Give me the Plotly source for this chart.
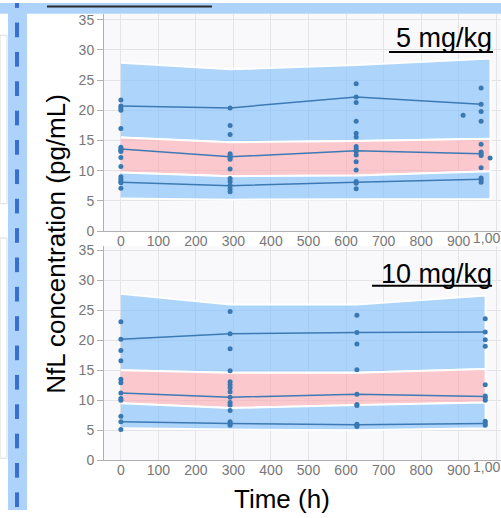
import plotly.graph_objects as go

W, H = 501, 518

# ---------------- data: 5 mg/kg ----------------
band_t_5 = [0, 291, 627, 985]
hi_top_5 = [27.9, 26.8, 27.5, 28.6]
hi_bot_5 = [15.5, 14.7, 14.9, 15.3]
lo_top_5 = [9.7, 9.1, 9.2, 9.9]
lo_bot_5 = [5.4, 5.2, 5.2, 5.3]

line_t_5 = [0, 291, 627, 960]
p95_5 = [20.7, 20.4, 22.2, 21.0]
p50_5 = [13.6, 12.3, 13.3, 12.8]
p05_5 = [8.1, 7.5, 8.1, 8.6]

obs_t_5 = ([0] * 16 + [291] * 13 + [627] * 15 + [960] * 12 + [912, 984])
obs_c_5 = ([21.7, 20.7, 20.4, 20.0, 17.0, 13.9, 13.6, 13.4, 13.2, 12.2, 10.7, 9.0, 8.6, 8.2, 8.0, 7.1]
           + [20.4, 17.5, 16.0, 12.8, 12.5, 12.2, 11.9, 10.3, 8.7, 8.2, 7.6, 7.0, 6.5]
           + [24.4, 22.2, 21.3, 18.2, 16.2, 15.6, 14.0, 13.6, 13.2, 12.6, 11.5, 10.1, 8.2, 7.9, 7.0]
           + [23.7, 21.0, 19.8, 18.2, 14.4, 13.1, 12.8, 12.5, 10.5, 8.8, 8.5, 8.1]
           + [19.2, 12.1])

# ---------------- data: 10 mg/kg ----------------
band_t_10 = [0, 291, 629, 972]
hi_top_10 = [27.8, 26.0, 26.0, 27.5]
hi_bot_10 = [15.0, 14.6, 14.6, 15.2]
lo_top_10 = [9.5, 8.7, 9.2, 9.6]
lo_bot_10 = [5.3, 5.1, 5.0, 5.3]

line_t_10 = [0, 291, 629, 971]
p95_10 = [20.2, 21.1, 21.3, 21.4]
p50_10 = [11.2, 10.5, 11.0, 10.6]
p05_10 = [6.4, 6.1, 5.9, 6.1]

obs_t_10 = ([0] * 12 + [291] * 15 + [629] * 10 + [971] * 11)
obs_c_10 = ([23.1, 20.2, 18.3, 16.6, 13.5, 12.9, 11.2, 10.3, 10.0, 7.3, 6.4, 5.1]
            + [24.8, 21.1, 18.6, 14.9, 13.1, 12.6, 12.1, 11.4, 10.5, 9.6, 9.2, 8.3, 6.4, 6.1, 5.8]
            + [24.2, 21.3, 19.4, 15.1, 11.0, 9.3, 9.1, 6.0, 5.8, 5.6]
            + [23.6, 21.4, 20.1, 19.0, 12.6, 10.7, 10.4, 10.0, 6.5, 6.2, 5.8])

x_ticks = [0, 100, 200, 300, 400, 500, 600, 700, 800, 900, 1000]
x_tick_text = ["0", "100", "200", "300", "400", "500", "600", "700", "800", "900", ""]
x_last_label = "1,00"   # the 1,000 label is cut at the right edge of the picture
y_ticks = [0, 5, 10, 15, 20, 25, 30, 35]
panel_labels = ["5 mg/kg", "10 mg/kg"]

BLUE_FILL = "rgba(122,188,252,0.6)"
PINK_FILL = "rgba(252,167,175,0.6)"
LINE_C = "#3d7ab5"
PT_C = "#3a78b2"

fig = go.Figure()


def add_panel(xa, ya, bt, ht, hb, lt, lb, lt_x, u, m, l, ot, oc):
    for top, bot, col in [(ht, hb, BLUE_FILL), (hb, lt, PINK_FILL), (lt, lb, BLUE_FILL)]:
        fig.add_trace(go.Scatter(x=bt + bt[::-1], y=top + bot[::-1], fill="toself",
                                 fillcolor=col, mode="lines",
                                 line=dict(color="white", width=2),
                                 xaxis=xa, yaxis=ya, showlegend=False, hoverinfo="skip"))
    for s in (u, m, l):
        fig.add_trace(go.Scatter(x=lt_x, y=s, mode="lines",
                                 line=dict(color=LINE_C, width=1.5),
                                 xaxis=xa, yaxis=ya, showlegend=False))
    fig.add_trace(go.Scatter(x=ot, y=oc, mode="markers",
                             marker=dict(color=PT_C, size=5),
                             xaxis=xa, yaxis=ya, showlegend=False))


add_panel("x", "y", band_t_5, hi_top_5, hi_bot_5, lo_top_5, lo_bot_5,
          line_t_5, p95_5, p50_5, p05_5, obs_t_5, obs_c_5)
add_panel("x2", "y2", band_t_10, hi_top_10, hi_bot_10, lo_top_10, lo_bot_10,
          line_t_10, p95_10, p50_10, p05_10, obs_t_10, obs_c_10)


def px_x(p):
    return p / W


def px_y(p):
    return (H - p) / H


tick_font = dict(family="Liberation Sans, Arial", size=14, color="#777777")
xcommon = dict(range=[-45, 1013], tickvals=x_ticks, ticktext=x_tick_text,
               showgrid=True, gridcolor="#e4e4e8", gridwidth=1,
               showline=True, linecolor="#b0b0b0", linewidth=1,
               ticks="", tickfont=tick_font, zeroline=False, ticklabelstandoff=-3,
               domain=[px_x(104), 1.0])
ycommon = dict(tickvals=y_ticks, showgrid=True, gridcolor="#e4e4e8", gridwidth=1,
               showline=True, linecolor="#b0b0b0", linewidth=1,
               ticks="outside", ticklen=6, tickcolor="#b0b0b0",
               tickfont=tick_font, zeroline=False)

fig.update_layout(
    width=W, height=H,
    margin=dict(l=0, r=0, t=0, b=0),
    paper_bgcolor="white", plot_bgcolor="#f9f9fb",
    font=dict(family="Liberation Sans, Arial", color="black"),
    xaxis=dict(anchor="y", **xcommon),
    yaxis=dict(anchor="x", range=[0, 36], domain=[px_y(233), px_y(11)], **ycommon),
    xaxis2=dict(anchor="y2", **xcommon),
    yaxis2=dict(anchor="x2", range=[0, 35.8], domain=[px_y(467), px_y(248)], **ycommon),
)

annotations = [
    dict(text=panel_labels[0], x=px_x(494), y=px_y(36), xref="paper", yref="paper",
         xanchor="right", yanchor="middle", showarrow=False,
         font=dict(size=27, color="black")),
    dict(text=panel_labels[1], x=px_x(494), y=px_y(277), xref="paper", yref="paper",
         xanchor="right", yanchor="middle", showarrow=False,
         font=dict(size=27, color="black")),
    dict(text="NfL concentration (pg/mL)", x=px_x(56), y=px_y(246), xref="paper", yref="paper",
         xanchor="center", yanchor="middle", textangle=-90, showarrow=False,
         font=dict(size=26, color="black")),
    dict(text="Time (h)", x=px_x(282), y=px_y(507), xref="paper", yref="paper",
         xanchor="center", yanchor="middle", showarrow=False,
         font=dict(size=26, color="black")),
    dict(text=x_last_label, x=1.0, y=px_y(240), xref="paper", yref="paper",
         xanchor="right", yanchor="middle", showarrow=False, borderpad=0,
         font=dict(family="Liberation Sans, Arial", size=14, color="#777777")),
    dict(text=x_last_label, x=1.0, y=px_y(474.5), xref="paper", yref="paper",
         xanchor="right", yanchor="middle", showarrow=False, borderpad=0,
         font=dict(family="Liberation Sans, Arial", size=14, color="#777777")),
]
fig.update_layout(annotations=annotations)

STRIP = "#aed3fa"
shapes = [
    dict(type="rect", xref="paper", yref="paper", x0=0, x1=1, y0=px_y(11), y1=1,
         fillcolor=STRIP, line=dict(width=0)),
    dict(type="rect", xref="paper", yref="paper", x0=0, x1=px_x(7), y0=px_y(205), y1=px_y(33),
         fillcolor="white", line=dict(color="#dedede", width=1)),
    dict(type="rect", xref="paper", yref="paper", x0=0, x1=px_x(7), y0=px_y(465), y1=px_y(240),
         fillcolor="white", line=dict(color="#dedede", width=1)),
    dict(type="rect", xref="paper", yref="paper", x0=px_x(8), x1=px_x(27), y0=0, y1=1,
         fillcolor=STRIP, line=dict(width=0)),
    dict(type="line", xref="paper", yref="paper", x0=px_x(47), x1=px_x(212), y0=px_y(3.5), y1=px_y(3.5),
         line=dict(color="#2b2b2b", width=2)),
    dict(type="line", xref="paper", yref="paper", x0=px_x(389), x1=px_x(493), y0=px_y(50), y1=px_y(50),
         line=dict(color="black", width=2)),
    dict(type="line", xref="paper", yref="paper", x0=px_x(372), x1=px_x(492), y0=px_y(289), y1=px_y(289),
         line=dict(color="black", width=2)),
]
# dashed decorative border on the left (dashes every 30 px)
for k in range(18):
    a = max(0, -10 + 30 * k)
    b = min(H, -10 + 30 * k + 15)
    if b > a:
        shapes.append(dict(type="rect", xref="paper", yref="paper", x0=px_x(15), x1=px_x(19),
                           y0=px_y(b), y1=px_y(a), fillcolor="#3a6fd1", line=dict(width=0)))
fig.update_layout(shapes=shapes)

post = ("document.documentElement.style.margin='0';document.body.style.margin='0';"
        "document.documentElement.style.overflow='hidden';document.body.style.overflow='hidden';")
fig.write_html("out.html", config={"displayModeBar": False}, post_script=post)
